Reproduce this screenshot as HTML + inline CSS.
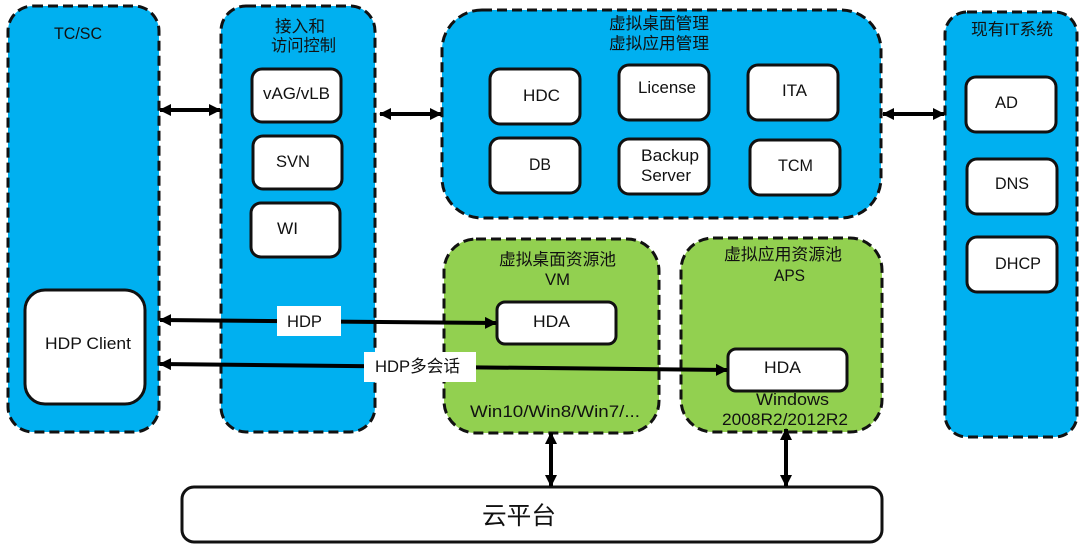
<!DOCTYPE html>
<html><head><meta charset="utf-8">
<style>html,body{margin:0;padding:0;background:#fff}svg{display:block}
text{font-family:"Liberation Sans","Noto Sans CJK SC",sans-serif;font-size:17px;fill:#111;text-anchor:start}
.c{font-size:16.7px}
.b{fill:#00b0f0;stroke:#111;stroke-width:3;stroke-dasharray:10 5}
.g{fill:#92d050;stroke:#111;stroke-width:3;stroke-dasharray:10 5}
.w{fill:#fff;stroke:#111;stroke-width:3}
.l{stroke:#000;stroke-width:4;fill:none}
</style></head><body>
<svg width="1090" height="554" viewBox="0 0 1090 554" xmlns="http://www.w3.org/2000/svg">
<defs><marker id="a" markerUnits="userSpaceOnUse" markerWidth="12" markerHeight="12" refX="11" refY="6" orient="auto-start-reverse"><path d="M0 0L12 6L0 12Z" fill="#000"/></marker></defs>
<rect class="b" x="8" y="6" width="151" height="426" rx="25"/>
<rect class="b" x="221" y="6" width="154" height="426" rx="25"/>
<rect class="b" x="442" y="10" width="439" height="208" rx="40"/>
<rect class="b" x="945" y="12" width="132" height="425" rx="22"/>
<rect class="g" x="444" y="239" width="215" height="194" rx="32"/>
<rect class="g" x="681" y="238" width="201" height="194" rx="32"/>
<rect class="w" x="25" y="290" width="120" height="114" rx="20"/>
<rect class="w" x="252" y="69" width="89" height="53" rx="10"/>
<rect class="w" x="253" y="136" width="89" height="53" rx="10"/>
<rect class="w" x="251" y="203" width="89" height="54" rx="10"/>
<rect class="w" x="490" y="69" width="90" height="55" rx="10"/>
<rect class="w" x="619" y="65" width="90" height="55" rx="10"/>
<rect class="w" x="748" y="65" width="90" height="55" rx="10"/>
<rect class="w" x="490" y="138" width="90" height="55" rx="10"/>
<rect class="w" x="619" y="139" width="90" height="55" rx="10"/>
<rect class="w" x="750" y="140" width="90" height="55" rx="10"/>
<rect class="w" x="966" y="77" width="90" height="55" rx="10"/>
<rect class="w" x="967" y="159" width="90" height="55" rx="10"/>
<rect class="w" x="967" y="237" width="90" height="55" rx="10"/>
<rect class="w" x="497" y="302" width="119" height="42" rx="8"/>
<rect class="w" x="728" y="349" width="119" height="42" rx="8"/>
<rect class="w" x="182" y="487" width="700" height="55" rx="12"/>
<line class="l" x1="160" y1="110" x2="220" y2="110" marker-start="url(#a)" marker-end="url(#a)"/>
<line class="l" x1="380" y1="114" x2="441" y2="114" marker-start="url(#a)" marker-end="url(#a)"/>
<line class="l" x1="883" y1="114" x2="944" y2="114" marker-start="url(#a)" marker-end="url(#a)"/>
<line class="l" x1="160" y1="320" x2="496" y2="323" marker-start="url(#a)" marker-end="url(#a)"/>
<line class="l" x1="160" y1="364" x2="727" y2="370" marker-start="url(#a)" marker-end="url(#a)"/>
<line class="l" x1="551" y1="433" x2="551" y2="486" marker-start="url(#a)" marker-end="url(#a)"/>
<line class="l" x1="786" y1="429" x2="786" y2="486" marker-start="url(#a)" marker-end="url(#a)"/>
<rect x="277" y="306" width="64" height="30" fill="#fff"/>
<rect x="364" y="352" width="112" height="30" fill="#fff"/>
<text x="54" y="39" textLength="48" lengthAdjust="spacingAndGlyphs">TC/SC</text>
<text class="c" x="275" y="32" textLength="50" lengthAdjust="spacingAndGlyphs">接入和</text>
<text class="c" x="271" y="51" textLength="65" lengthAdjust="spacingAndGlyphs">访问控制</text>
<text class="c" x="609" y="29" textLength="100" lengthAdjust="spacingAndGlyphs">虚拟桌面管理</text>
<text class="c" x="609" y="49" textLength="100" lengthAdjust="spacingAndGlyphs">虚拟应用管理</text>
<text class="c" x="971" y="35" textLength="82" lengthAdjust="spacingAndGlyphs">现有IT系统</text>
<text x="45" y="349" textLength="86" lengthAdjust="spacingAndGlyphs">HDP Client</text>
<text x="263" y="99" textLength="67" lengthAdjust="spacingAndGlyphs">vAG/vLB</text>
<text x="276" y="167" textLength="34" lengthAdjust="spacingAndGlyphs">SVN</text>
<text x="277" y="234" textLength="21" lengthAdjust="spacingAndGlyphs">WI</text>
<text x="523" y="101" textLength="37" lengthAdjust="spacingAndGlyphs">HDC</text>
<text x="638" y="93" textLength="58" lengthAdjust="spacingAndGlyphs">License</text>
<text x="782" y="96" textLength="25" lengthAdjust="spacingAndGlyphs">ITA</text>
<text x="529" y="170" textLength="22" lengthAdjust="spacingAndGlyphs">DB</text>
<text x="641" y="161" textLength="58" lengthAdjust="spacingAndGlyphs">Backup</text>
<text x="641" y="181" textLength="50" lengthAdjust="spacingAndGlyphs">Server</text>
<text x="778" y="171" textLength="35" lengthAdjust="spacingAndGlyphs">TCM</text>
<text x="995" y="108" textLength="23" lengthAdjust="spacingAndGlyphs">AD</text>
<text x="995" y="189" textLength="34" lengthAdjust="spacingAndGlyphs">DNS</text>
<text x="995" y="269" textLength="46" lengthAdjust="spacingAndGlyphs">DHCP</text>
<text class="c" x="499" y="265" textLength="117" lengthAdjust="spacingAndGlyphs">虚拟桌面资源池</text>
<text x="545" y="285" textLength="25" lengthAdjust="spacingAndGlyphs">VM</text>
<text class="c" x="724" y="260" textLength="118" lengthAdjust="spacingAndGlyphs">虚拟应用资源池</text>
<text x="774" y="281" textLength="31" lengthAdjust="spacingAndGlyphs">APS</text>
<text x="533" y="327" textLength="37" lengthAdjust="spacingAndGlyphs">HDA</text>
<text x="764" y="373" textLength="37" lengthAdjust="spacingAndGlyphs">HDA</text>
<text x="287" y="327" textLength="35" lengthAdjust="spacingAndGlyphs">HDP</text>
<text x="375" y="372" textLength="85" lengthAdjust="spacingAndGlyphs">HDP多会话</text>
<text x="470" y="417" textLength="170" lengthAdjust="spacingAndGlyphs">Win10/Win8/Win7/...</text>
<text x="756" y="405" textLength="73" lengthAdjust="spacingAndGlyphs">Windows</text>
<text x="722" y="425" textLength="126" lengthAdjust="spacingAndGlyphs">2008R2/2012R2</text>
<text x="482" y="524" style="font-size:24.5px" textLength="74" lengthAdjust="spacingAndGlyphs">云平台</text>
</svg>
</body></html>
